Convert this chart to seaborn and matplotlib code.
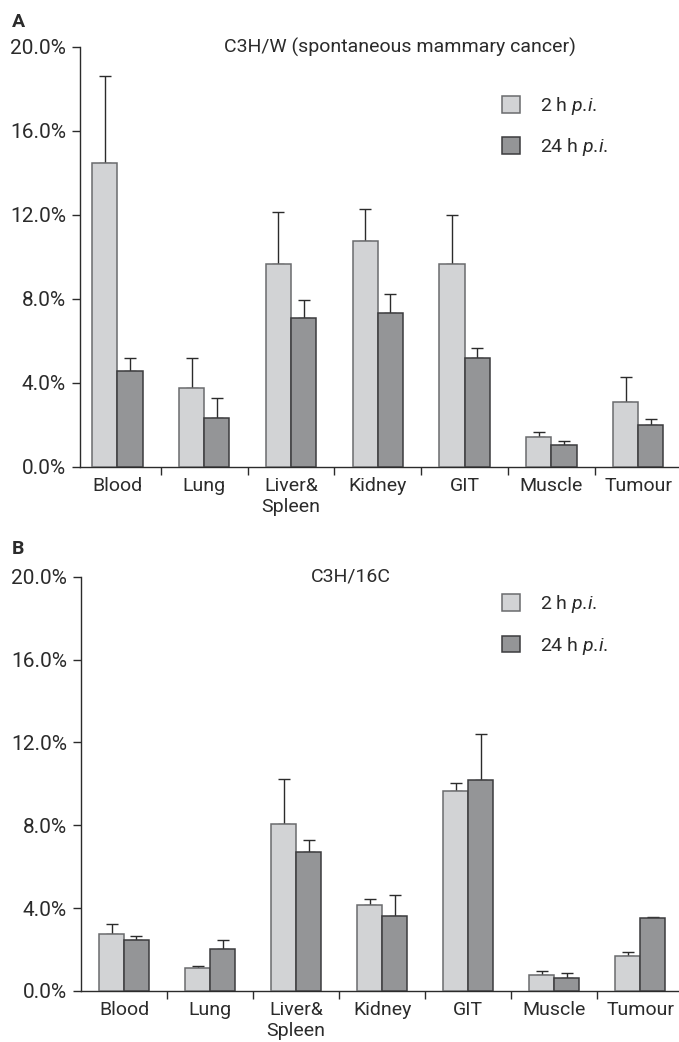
import matplotlib
matplotlib.use("Agg")
import matplotlib.pyplot as plt
import matplotlib.ticker as mticker
import seaborn as sns
import pandas as pd
import numpy as np

# ── data (percent of injected dose) ─────────────
ORGANS = ["Blood", "Lung", "Liver&\nSpleen", "Kidney", "GIT", "Muscle", "Tumour"]
TIMES = ["2 h $\\mathit{p}$.$\\mathit{i}$.", "24 h $\\mathit{p}$.$\\mathit{i}$."]

a_2h = [14.5, 3.78, 9.68, 10.78, 9.68, 1.44, 3.08]
a_2h_err = [4.13, 1.39, 2.45, 1.51, 2.32, 0.23, 1.19]
a_24h = [4.57, 2.35, 7.11, 7.35, 5.17, 1.03, 2.0]
a_24h_err = [0.60, 0.92, 0.84, 0.90, 0.51, 0.22, 0.29]

b_2h = [2.74, 1.13, 8.06, 4.15, 9.65, 0.79, 1.70]
b_2h_err = [0.49, 0.08, 2.19, 0.28, 0.39, 0.18, 0.18]
b_24h = [2.45, 2.04, 6.71, 3.62, 10.18, 0.63, 3.54]
b_24h_err = [0.20, 0.41, 0.56, 1.03, 2.22, 0.22, 0.05]

YTICKS = [0, 4, 8, 12, 16, 20]

# ── style ───────────────────────────────────────
FILL = ["#D2D3D5", "#939598"]
EDGE = ["#6A6B6D", "#3C3C3E"]
INK = "#2B2B2B"

sns.set_style("ticks")
FONT = ["Roboto", "DejaVu Sans"]
plt.rcParams.update({
    "font.family": FONT,
    "mathtext.fontset": "custom",
    "mathtext.rm": "Roboto",
    "mathtext.it": "Roboto:italic",
    "text.color": INK,
    "axes.edgecolor": INK,
    "xtick.color": INK,
    "ytick.color": INK,
})


def long_df(v2, e2, v24, e24):
    return pd.DataFrame({
        "organ": ORGANS * 2,
        "time": [TIMES[0]] * 7 + [TIMES[1]] * 7,
        "value": v2 + v24,
        "err": e2 + e24,
    })


def draw_panel(ax, df, title, title_x, xlim, leg_anchor):
    sns.barplot(data=df, x="organ", y="value", hue="time", order=ORGANS,
                hue_order=TIMES, palette=FILL, width=0.58, gap=0,
                errorbar=None, linewidth=1.1, ax=ax, zorder=3)

    # colour edges per series and add upward error bars
    bar_groups = list(ax.containers)
    for i, cont in enumerate(bar_groups):
        sub = df[df["time"] == TIMES[i]].set_index("organ").loc[ORGANS]
        xs = []
        for bar in cont:
            bar.set_edgecolor(EDGE[i])
            xs.append(bar.get_x() + bar.get_width() / 2)
        ax.errorbar(xs, sub["value"], yerr=[np.zeros(len(xs)), sub["err"]],
                    fmt="none", ecolor=INK, elinewidth=1.0, capsize=4,
                    capthick=1.0, zorder=2)

    ax.set_xlim(*xlim)
    ax.set_ylim(0, 20)
    ax.set_yticks(YTICKS)
    ax.yaxis.set_major_formatter(mticker.FuncFormatter(lambda v, _: f"{v:.1f}%"))
    ax.set_xlabel("")
    ax.set_ylabel("")
    ax.xaxis.set_minor_locator(mticker.FixedLocator(np.arange(0.5, 6, 1)))
    ax.tick_params(axis="x", which="major", length=0, pad=7, labelsize=14)
    ax.tick_params(axis="x", which="minor", length=6, width=1.0, direction="out")
    ax.tick_params(axis="y", length=6, width=1.0, pad=4, labelsize=15)
    sns.despine(ax=ax)
    ax.spines["left"].set_linewidth(1.0)
    ax.spines["bottom"].set_linewidth(1.0)

    ax.text(title_x, 1.0, title, transform=ax.transAxes, ha="center",
            va="center", fontsize=14)

    handles, labels = ax.get_legend_handles_labels()
    for h, ec in zip(handles, EDGE):
        h.set_edgecolor(ec)
    ax.legend(handles, labels, loc="upper left", bbox_to_anchor=leg_anchor,
              frameon=False, fontsize=14, handlelength=0.95, handleheight=0.95,
              handletextpad=1.0, labelspacing=1.0, borderpad=0,
              borderaxespad=0)


fig = plt.figure(figsize=(6.79, 10.42), dpi=100)
axA = fig.add_axes([80 / 679, 1 - 467 / 1042, 599 / 679, 420 / 1042])
axB = fig.add_axes([81 / 679, 1 - 991 / 1042, 598 / 679, 414.3 / 1042])

draw_panel(axA, long_df(a_2h, a_2h_err, a_24h, a_24h_err),
           "C3H/W (spontaneous mammary cancer)", 0.534, (-0.43, 6.47),
           (0.7045, 0.886))
draw_panel(axB, long_df(b_2h, b_2h_err, b_24h, b_24h_err),
           "C3H/16C", 0.4515, (-0.5, 6.45), (0.704, 0.96))

fig.text(12 / 679, 1 - 22 / 1042, "A", fontsize=14, fontweight="bold",
         ha="left", va="center")
fig.text(12 / 679, 1 - 549 / 1042, "B", fontsize=14, fontweight="bold",
         ha="left", va="center")

fig.savefig("out.png", dpi=100, facecolor="white")
